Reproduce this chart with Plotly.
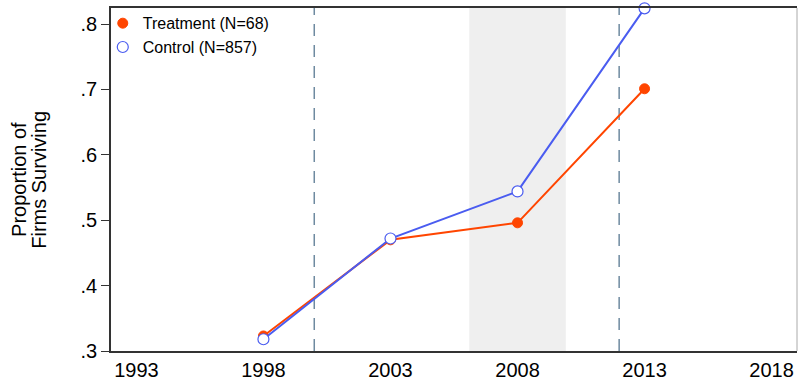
import plotly.graph_objects as go

years = [1998, 2003, 2008, 2013]
treatment = [0.323, 0.470, 0.496, 0.701]
control = [0.318, 0.472, 0.544, 0.824]
x_ticks = [1993, 1998, 2003, 2008, 2013, 2018]
y_ticks = [0.3, 0.4, 0.5, 0.6, 0.7, 0.8]
y_tick_labels = [".3", ".4", ".5", ".6", ".7", ".8"]
dashed_years = [2000, 2012]
shade_span = [2006.1, 2009.9]

ORANGE = "#FF4500"
BLUE = "#4A5CF0"

fig = go.Figure()
fig.add_trace(go.Scatter(
    x=years, y=treatment, mode="lines+markers", name="Treatment (N=68)",
    line=dict(color=ORANGE, width=2),
    marker=dict(color=ORANGE, size=10, line=dict(color=ORANGE, width=1)),
    cliponaxis=False, showlegend=False))
fig.add_trace(go.Scatter(
    x=years, y=control, mode="lines+markers", name="Control (N=857)",
    line=dict(color=BLUE, width=2),
    marker=dict(color="white", size=11, line=dict(color=BLUE, width=1.2)),
    cliponaxis=False, showlegend=False))
# legend entries (markers only, as in the reference)
fig.add_trace(go.Scatter(
    x=[None], y=[None], mode="markers", name="Treatment (N=68)",
    marker=dict(color=ORANGE, size=10, line=dict(color=ORANGE, width=1))))
fig.add_trace(go.Scatter(
    x=[None], y=[None], mode="markers", name="Control (N=857)",
    marker=dict(color="white", size=11, line=dict(color=BLUE, width=1.2))))

fig.add_vrect(x0=shade_span[0], x1=shade_span[1], fillcolor="#EFEFEF",
              line_width=0, layer="below")
for xv in dashed_years:
    fig.add_vline(x=xv, line=dict(color="#6E8AA0", width=1.5, dash="12px,9px"),
                  layer="below")
fig.add_shape(type="line", xref="paper", yref="paper", x0=1, x1=1, y0=0, y1=1,
              line=dict(color="#AAAAAA", width=1))

title_font = dict(family="Liberation Sans, Arial, sans-serif", size=20, color="black")
fig.add_annotation(text="Proportion of", xref="paper", yref="paper",
                   x=-0.135, y=0.5, textangle=-90, showarrow=False,
                   xanchor="center", yanchor="middle", font=title_font)
fig.add_annotation(text="Firms Surviving", xref="paper", yref="paper",
                   x=-0.106, y=0.5, textangle=-90, showarrow=False,
                   xanchor="center", yanchor="middle", font=title_font)

fig.update_layout(
    width=798, height=381,
    margin=dict(l=111, r=1, t=8, b=30),
    plot_bgcolor="white", paper_bgcolor="white",
    font=dict(family="Liberation Sans, Arial, sans-serif", size=20, color="black"),
    showlegend=True,
    legend=dict(x=-0.012, y=1.005, xanchor="left", yanchor="top",
                bgcolor="rgba(0,0,0,0)", font=dict(size=16),
                itemwidth=30, tracegroupgap=0),
    xaxis=dict(range=[1992, 2019], tickvals=x_ticks,
               ticktext=[str(t) for t in x_ticks],
               showgrid=False, zeroline=False, showline=True,
               linecolor="#333333", linewidth=1.5, mirror=True,
               ticks="", tickfont=dict(size=20)),
    yaxis=dict(range=[0.3, 0.8245], tickvals=y_ticks, ticktext=y_tick_labels,
               showgrid=False, zeroline=False, showline=True,
               linecolor="#333333", linewidth=1.5,
               ticks="outside", ticklen=8, tickcolor="#333333",
               tickfont=dict(size=20)),
)

fig.write_html("out.html", config={"displayModeBar": False},
               post_script="document.body.style.margin='0';document.body.style.padding='0';")
